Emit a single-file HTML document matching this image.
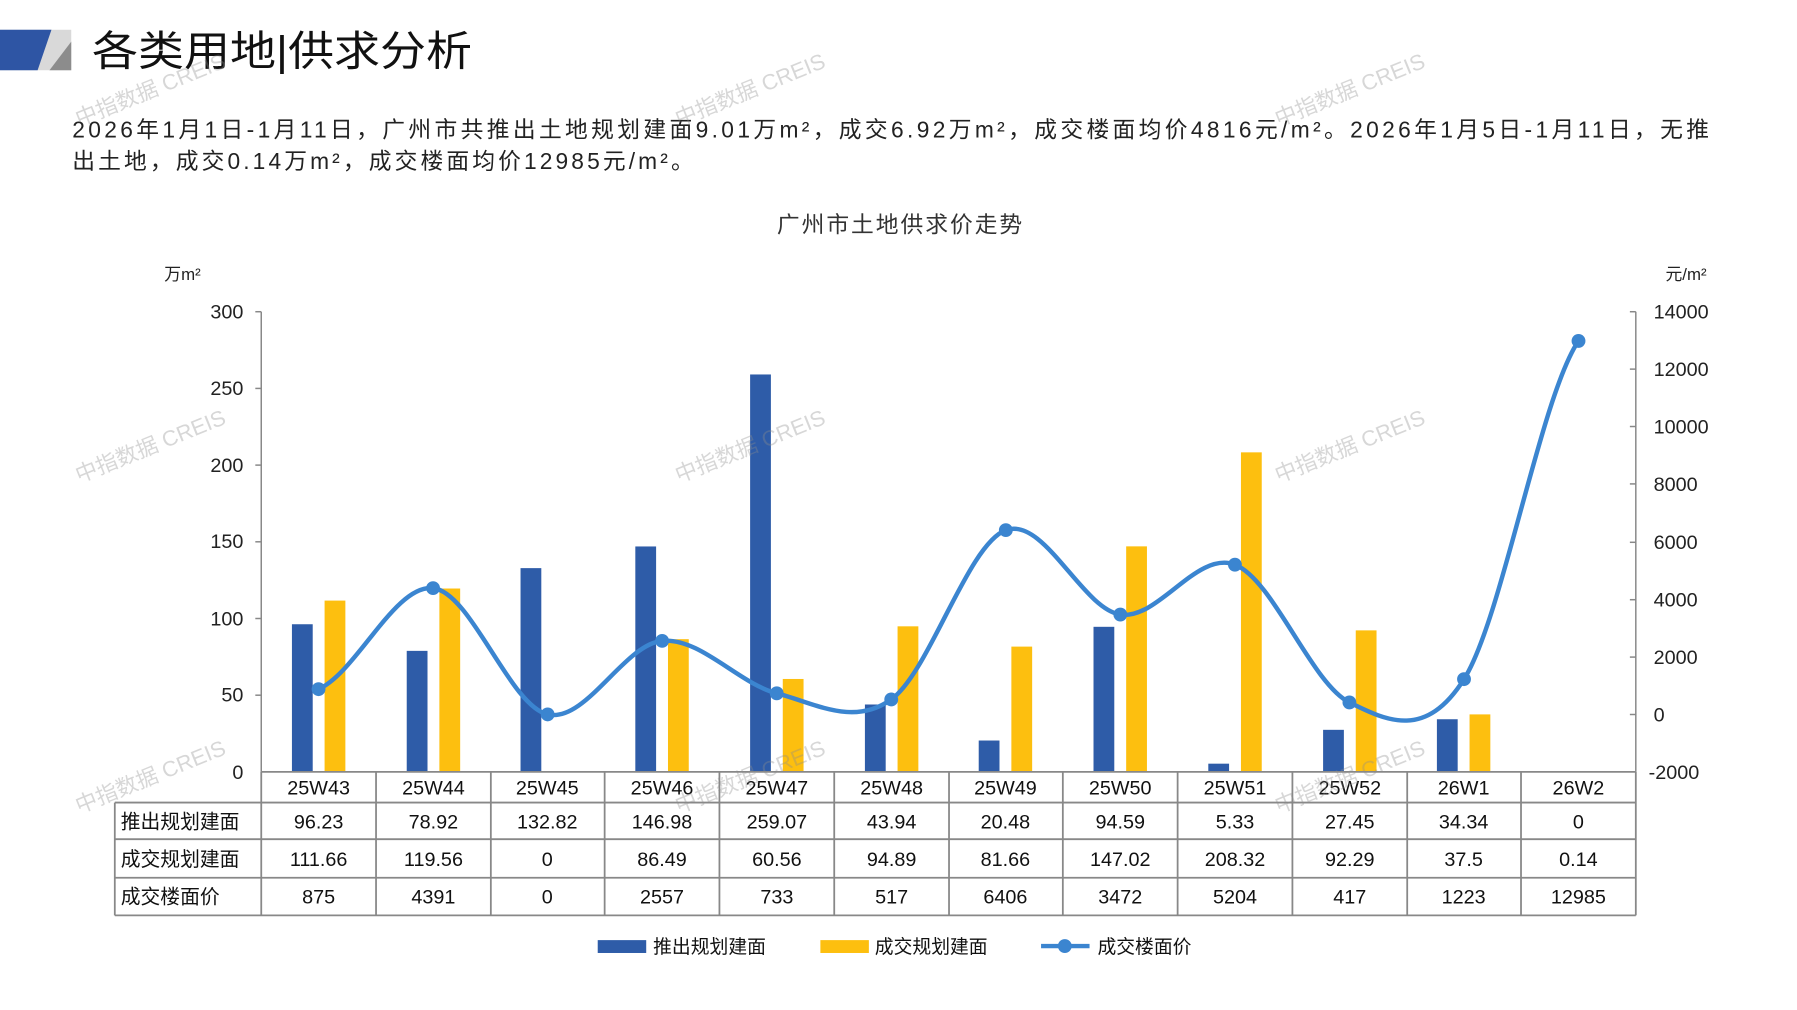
<!DOCTYPE html>
<html><head><meta charset="utf-8"><style>
html,body{margin:0;padding:0;background:#fff;}
svg{display:block;}
text{font-family:"Liberation Sans","Noto Sans CJK SC",sans-serif;}
</style></head><body>
<svg width="1797" height="1010" viewBox="0 0 1797 1010" xmlns="http://www.w3.org/2000/svg">
<g transform="scale(0.9896)">
<!-- header icon -->
<polygon points="0,30 72,30 72,71 0,71" fill="#d9d9d9"/>
<polygon points="0,30 52,30 38,71 0,71" fill="#2e55a4"/>
<polygon points="72,42 72,71 50,71" fill="#8c8c8c"/>
<text x="93" y="66" font-size="42" textLength="384" lengthAdjust="spacingAndGlyphs" fill="#111">各类用地|供求分析</text>
<!-- paragraph -->
<text x="73" y="139" font-size="23" fill="#222" textLength="1654" lengthAdjust="spacing">2026年1月1日-1月11日，广州市共推出土地规划建面9.01万m²，成交6.92万m²，成交楼面均价4816元/m²。2026年1月5日-1月11日，无推</text>
<text x="73" y="171" font-size="23" fill="#222" textLength="628" lengthAdjust="spacing">出土地，成交0.14万m²，成交楼面均价12985元/m²。</text>
<!-- chart title -->
<text x="910" y="235" font-size="23" fill="#333" text-anchor="middle" letter-spacing="2">广州市土地供求价走势</text>
<text x="166" y="283" font-size="17" fill="#222">万m²</text>
<text x="1683" y="283" font-size="17" fill="#222">元/m²</text>
<!-- axes -->
<g stroke="#888" stroke-width="1.5">
<line x1="264" y1="315" x2="264" y2="780"/>
<line x1="258" y1="315" x2="264" y2="315"/><line x1="258" y1="392.5" x2="264" y2="392.5"/><line x1="258" y1="470" x2="264" y2="470"/><line x1="258" y1="547.5" x2="264" y2="547.5"/><line x1="258" y1="625" x2="264" y2="625"/><line x1="258" y1="702.5" x2="264" y2="702.5"/>
<line x1="1653" y1="315" x2="1653" y2="780"/>
<line x1="1647" y1="315" x2="1653" y2="315"/><line x1="1647" y1="373" x2="1653" y2="373"/><line x1="1647" y1="431" x2="1653" y2="431"/><line x1="1647" y1="489" x2="1653" y2="489"/><line x1="1647" y1="548" x2="1653" y2="548"/><line x1="1647" y1="606" x2="1653" y2="606"/><line x1="1647" y1="664" x2="1653" y2="664"/><line x1="1647" y1="722" x2="1653" y2="722"/>
</g>
<g font-size="20" fill="#222" text-anchor="end">
<text x="246" y="322">300</text><text x="246" y="399">250</text><text x="246" y="477">200</text><text x="246" y="554">150</text><text x="246" y="632">100</text><text x="246" y="709">50</text><text x="246" y="787">0</text>
</g>
<g font-size="20" fill="#222">
<text x="1671" y="322">14000</text><text x="1671" y="380">12000</text><text x="1671" y="438">10000</text><text x="1671" y="496">8000</text><text x="1671" y="555">6000</text><text x="1671" y="613">4000</text><text x="1671" y="671">2000</text><text x="1671" y="729">0</text><text x="1666" y="787">-2000</text>
</g>
<!-- bars -->
<g fill="#2e5ca8">
<rect x="295" y="630.8" width="21" height="149.2"/>
<rect x="411" y="657.7" width="21" height="122.3"/>
<rect x="526" y="574.1" width="21" height="205.9"/>
<rect x="642" y="552.2" width="21" height="227.8"/>
<rect x="758" y="378.4" width="21" height="401.6"/>
<rect x="874" y="711.9" width="21" height="68.1"/>
<rect x="989" y="748.3" width="21" height="31.7"/>
<rect x="1105" y="633.4" width="21" height="146.6"/>
<rect x="1221" y="771.7" width="21" height="8.3"/>
<rect x="1337" y="737.5" width="21" height="42.5"/>
<rect x="1452" y="726.8" width="21" height="53.2"/>
</g>
<g fill="#fdbf0f">
<rect x="328" y="606.9" width="21" height="173.1"/>
<rect x="444" y="594.7" width="21" height="185.3"/>
<rect x="675" y="645.9" width="21" height="134.1"/>
<rect x="791" y="686.1" width="21" height="93.9"/>
<rect x="907" y="632.9" width="21" height="147.1"/>
<rect x="1022" y="653.4" width="21" height="126.6"/>
<rect x="1138" y="552.1" width="21" height="227.9"/>
<rect x="1254" y="457.1" width="21" height="322.9"/>
<rect x="1370" y="637" width="21" height="143"/>
<rect x="1485" y="721.9" width="21" height="58.1"/>
<rect x="1601" y="779.8" width="21" height="0.2"/>
</g>
<!-- line -->
<path d="M321.9,696.4 C360.5,679.4 399.0,590.05 437.6,594.3 C476.2,598.55 514.8,713.0 553.4,721.9 C592.0,730.8 630.5,651.15 669.1,647.6 C707.7,644.05 746.3,690.7 784.9,700.6 C823.5,710.5 862.0,734.3 900.6,706.8 C939.2,679.3 977.8,550.0 1016.4,535.7 C1055.0,521.4 1093.5,615.2 1132.1,621.0 C1170.7,626.8 1209.3,555.8 1247.9,570.6 C1286.5,585.4 1325.0,690.5 1363.6,709.8 C1402.2,729.1 1440.8,747.2 1479.4,686.3 C1518.0,625.4 1556.5,401.5 1595.1,344.5" fill="none" stroke="#3b85d0" stroke-width="4.5"/>
<g fill="#3b85d0">
<circle cx="321.9" cy="696.4" r="7"/><circle cx="437.6" cy="594.3" r="7"/><circle cx="553.4" cy="721.9" r="7"/><circle cx="669.1" cy="647.6" r="7"/><circle cx="784.9" cy="700.6" r="7"/><circle cx="900.6" cy="706.8" r="7"/><circle cx="1016.4" cy="535.7" r="7"/><circle cx="1132.1" cy="621.0" r="7"/><circle cx="1247.9" cy="570.6" r="7"/><circle cx="1363.6" cy="709.8" r="7"/><circle cx="1479.4" cy="686.3" r="7"/><circle cx="1595.1" cy="344.5" r="7"/>
</g>
<!-- table -->
<g stroke="#888" stroke-width="1.8" fill="none">
<line x1="264" y1="780" x2="1653" y2="780"/>
<line x1="116" y1="811" x2="1653" y2="811"/>
<line x1="116" y1="848" x2="1653" y2="848"/>
<line x1="116" y1="887" x2="1653" y2="887"/>
<line x1="116" y1="925" x2="1653" y2="925"/>
<line x1="116" y1="811" x2="116" y2="925"/>
<line x1="264" y1="780" x2="264" y2="925"/>
<line x1="380" y1="780" x2="380" y2="925"/><line x1="496" y1="780" x2="496" y2="925"/><line x1="611" y1="780" x2="611" y2="925"/><line x1="727" y1="780" x2="727" y2="925"/><line x1="843" y1="780" x2="843" y2="925"/><line x1="959" y1="780" x2="959" y2="925"/><line x1="1074" y1="780" x2="1074" y2="925"/><line x1="1190" y1="780" x2="1190" y2="925"/><line x1="1306" y1="780" x2="1306" y2="925"/><line x1="1422" y1="780" x2="1422" y2="925"/><line x1="1537" y1="780" x2="1537" y2="925"/>
<line x1="1653" y1="780" x2="1653" y2="925"/>
</g>
<g font-size="20" fill="#111">
<text x="122" y="837">推出规划建面</text>
<text x="122" y="875">成交规划建面</text>
<text x="122" y="913">成交楼面价</text>
</g>
<g font-size="20" fill="#111" text-anchor="middle">
<text x="322" y="803">25W43</text><text x="438" y="803">25W44</text><text x="553" y="803">25W45</text><text x="669" y="803">25W46</text><text x="785" y="803">25W47</text><text x="901" y="803">25W48</text><text x="1016" y="803">25W49</text><text x="1132" y="803">25W50</text><text x="1248" y="803">25W51</text><text x="1364" y="803">25W52</text><text x="1479" y="803">26W1</text><text x="1595" y="803">26W2</text>
<text x="322" y="837">96.23</text><text x="438" y="837">78.92</text><text x="553" y="837">132.82</text><text x="669" y="837">146.98</text><text x="785" y="837">259.07</text><text x="901" y="837">43.94</text><text x="1016" y="837">20.48</text><text x="1132" y="837">94.59</text><text x="1248" y="837">5.33</text><text x="1364" y="837">27.45</text><text x="1479" y="837">34.34</text><text x="1595" y="837">0</text>
<text x="322" y="875">111.66</text><text x="438" y="875">119.56</text><text x="553" y="875">0</text><text x="669" y="875">86.49</text><text x="785" y="875">60.56</text><text x="901" y="875">94.89</text><text x="1016" y="875">81.66</text><text x="1132" y="875">147.02</text><text x="1248" y="875">208.32</text><text x="1364" y="875">92.29</text><text x="1479" y="875">37.5</text><text x="1595" y="875">0.14</text>
<text x="322" y="913">875</text><text x="438" y="913">4391</text><text x="553" y="913">0</text><text x="669" y="913">2557</text><text x="785" y="913">733</text><text x="901" y="913">517</text><text x="1016" y="913">6406</text><text x="1132" y="913">3472</text><text x="1248" y="913">5204</text><text x="1364" y="913">417</text><text x="1479" y="913">1223</text><text x="1595" y="913">12985</text>
</g>
<!-- legend -->
<rect x="604" y="950" width="49" height="13" fill="#2e5ca8"/>
<text x="660" y="963" font-size="19" fill="#111">推出规划建面</text>
<rect x="829" y="950" width="49" height="13" fill="#fdbf0f"/>
<text x="884" y="963" font-size="19" fill="#111">成交规划建面</text>
<line x1="1052" y1="956" x2="1101" y2="956" stroke="#3b85d0" stroke-width="4.5"/>
<circle cx="1076" cy="956" r="7" fill="#3b85d0"/>
<text x="1109" y="963" font-size="19" fill="#111">成交楼面价</text>
<!-- watermarks -->
<g font-size="22" fill="rgba(140,140,140,0.35)">
<text transform="translate(80,128) rotate(-22)">中指数据 CREIS</text>
<text transform="translate(686,128) rotate(-22)">中指数据 CREIS</text>
<text transform="translate(1292,128) rotate(-22)">中指数据 CREIS</text>
<text transform="translate(80,488) rotate(-22)">中指数据 CREIS</text>
<text transform="translate(686,488) rotate(-22)">中指数据 CREIS</text>
<text transform="translate(1292,488) rotate(-22)">中指数据 CREIS</text>
<text transform="translate(80,822) rotate(-22)">中指数据 CREIS</text>
<text transform="translate(686,822) rotate(-22)">中指数据 CREIS</text>
<text transform="translate(1292,822) rotate(-22)">中指数据 CREIS</text>
</g>
</g>
</svg>
</body></html>
